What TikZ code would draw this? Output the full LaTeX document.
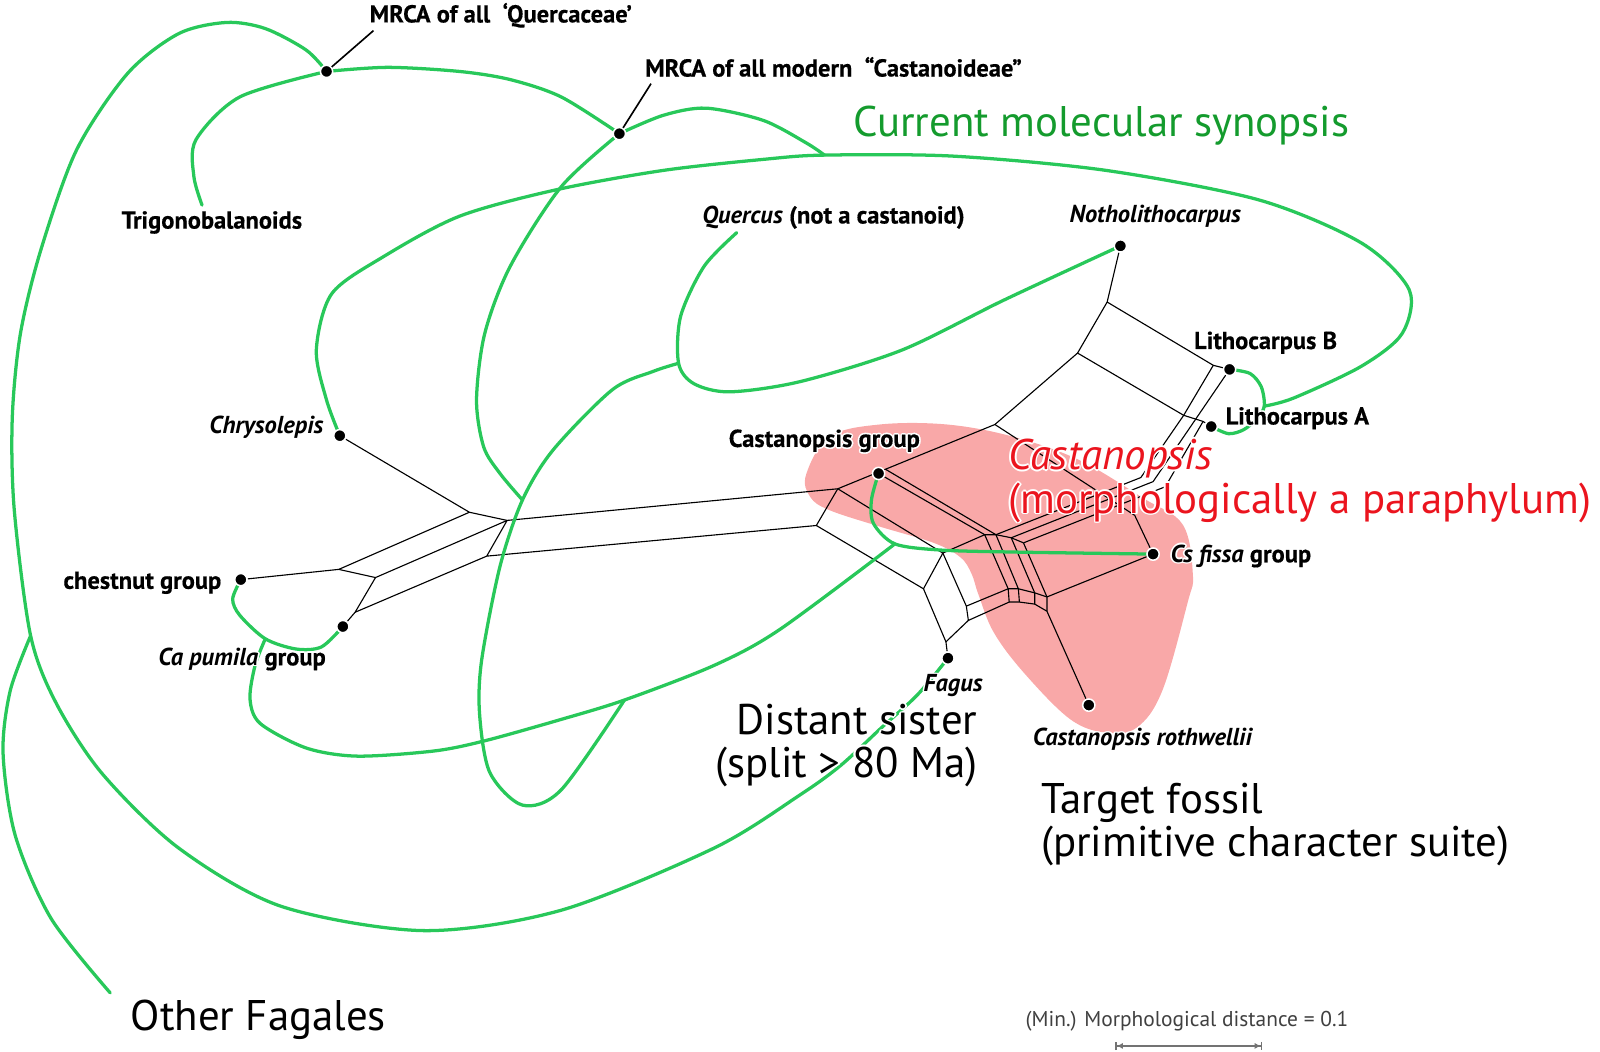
\documentclass[tikz,border=0pt]{standalone}
\usepackage{fontspec}
\setmainfont{PT Sans}
\newfontfamily\lblfont[BoldFeatures={FakeBold=0.4}]{PT Sans}
\usepackage{xcolor}
\usepackage{tikz}
\usetikzlibrary{arrows.meta,positioning,calc}

\definecolor{molgreen}{RGB}{40,200,90}
\definecolor{titlegreen}{RGB}{20,155,45}
\definecolor{castred}{RGB}{235,20,30}
\definecolor{castpink}{RGB}{249,168,168}

% white rim round a label
\newcommand{\halo}[1]{%
  \rlap{\color{white}\hspace{-1.6pt}#1}\rlap{\color{white}\hspace{1.6pt}#1}%
  \rlap{\color{white}\raisebox{1.6pt}{#1}}\rlap{\color{white}\raisebox{-1.6pt}{#1}}%
  \rlap{\color{white}\hspace{-1.1pt}\raisebox{1.1pt}{#1}}\rlap{\color{white}\hspace{1.1pt}\raisebox{1.1pt}{#1}}%
  \rlap{\color{white}\hspace{-1.1pt}\raisebox{-1.1pt}{#1}}\rlap{\color{white}\hspace{1.1pt}\raisebox{-1.1pt}{#1}}%
  #1}

\pgfdeclarelayer{back}
\pgfsetlayers{back,main}

\begin{document}
\begin{tikzpicture}[x=1pt, y=-1pt,
  net/.style={line width=1.1pt, line join=round},
  mol/.style={draw=molgreen, line width=3.2pt, line cap=round},
  leaf/.style={circle, fill=black, draw=white, line width=1.5pt, inner sep=0pt, minimum size=12pt},
  lbl/.style={font=\lblfont\bfseries\fontsize{24}{26}\selectfont, inner sep=0pt, anchor=base west},
  big/.style={font=\fontsize{42}{46}\selectfont, inner sep=0pt, anchor=base west}]
\useasboundingbox (0,0) rectangle (1568,1030);

% leaves
\node[leaf] (q) at (320,70) {};
\node[leaf] (c) at (607,131) {};
\node[leaf] (noth) at (1098,241) {};
\node[leaf] (lithb) at (1205,362) {};
\node[leaf] (litha) at (1187,418) {};
\node[leaf] (chrys) at (333,427) {};
\node[leaf] (castg) at (861,464) {};
\node[leaf] (chest) at (236,568) {};
\node[leaf] (capum) at (336,614) {};
\node[leaf] (csfissa) at (1130,543) {};
\node[leaf] (fagus) at (929,645) {};
\node[leaf] (roth) at (1067,691) {};

% network points
\coordinate (nA) at (460,502);
\coordinate (nB) at (497,510);
\coordinate (nD) at (477,545);
\coordinate (nE) at (332,558);
\coordinate (nF) at (368,566);
\coordinate (nG) at (348,600);
\coordinate (nH) at (821,479);
\coordinate (nI) at (800,515);
\coordinate (nK) at (975,416);
\coordinate (nL) at (1112,505);
\coordinate (nM1) at (1085,296);
\coordinate (nM2) at (1056,346);
\coordinate (nLB) at (1189,358);
\coordinate (nLA) at (1160,407);
\coordinate (nLA2) at (1179,413);
\coordinate (nN) at (924,542);
\coordinate (nD1) at (905,577);
\coordinate (nD2) at (947,594);
\coordinate (nD4) at (949,608);
\coordinate (nD3) at (927,629);
\coordinate (nCG) at (868,460);
\coordinate (bP) at (965,524);
\coordinate (bQ) at (976,524);
\coordinate (bR) at (991,527);
\coordinate (bS) at (1003,532);
\coordinate (bP2) at (988,577);
\coordinate (bQ2) at (998,577);
\coordinate (bR2) at (1014,581);
\coordinate (bS2) at (1026,585);
\coordinate (bP3) at (989,590);
\coordinate (bQ3) at (999,590);
\coordinate (bR3) at (1014,592);
\coordinate (bS3) at (1026,599);
\coordinate (k1) at (1118,468);
\coordinate (k2) at (1130,472);
\coordinate (k3) at (1142,477);

% tree junctions
\coordinate (j0) at (30,623);
\coordinate (je) at (808,152);
\coordinate (jq) at (665,356);
\coordinate (jx) at (512,490);
\coordinate (jl) at (612,686);
\coordinate (jp) at (260,626);
\coordinate (jc) at (877,533);
\coordinate (lj) at (1239,398);
\coordinate (ofEnd) at (108,973);
\coordinate (trigEnd) at (198,201);
\coordinate (quEnd) at (722,228);
\coordinate (qLead) at (366,30);
\coordinate (cLead) at (638,82);
\coordinate (sb1) at (1093,1025);
\coordinate (sb2) at (1237,1025);

\begin{pgfonlayer}{back}
\fill[castpink] plot[smooth cycle, tension=0.6] coordinates {(790,465) (813,428) (862,416) (928,416) (993,428) (1058,451) (1120,488) (1159,514) (1169,563) (1164,590) (1139,677) (1114,713) (1084,718) (1049,705) (1004,660) (974,620) (959,583) (952,562) (941,546) (915,532) (862,516) (813,500) (794,487)};

\draw[net] (chrys) -- (nA) -- (nB) -- (nH);
\draw[net] (nA) -- (nE) -- (chest);
\draw[net] (nE) -- (nF) -- (nB) -- (nD) -- (nI);
\draw[net] (nF) -- (nG) -- (capum);
\draw[net] (nG) -- (nD);
\draw[net] (nH) -- (nI) -- (nD1) -- (nD3) -- (fagus);
\draw[net] (nH) -- (nK) -- (nM2) -- (nM1) -- (noth);
\draw[net] (nH) -- (nN) -- (nD1);
\draw[net] (nN) -- (nD2) -- (nD4) -- (nD3);
\draw[net] (nN) -- (bP);
\draw[net] (castg) -- (bP);
\draw[net] (nCG) -- (bQ);
\draw[net] (bP) -- (bQ) -- (bR) -- (bS);
\draw[net] (bP2) -- (bQ2) -- (bR2) -- (bS2);
\draw[net] (bP3) -- (bQ3) -- (bR3) -- (bS3);
\draw[net] (bP) -- (bP2) -- (bP3);
\draw[net] (bQ) -- (bQ2) -- (bQ3);
\draw[net] (bR) -- (bR2) -- (bR3);
\draw[net] (bS) -- (bS2) -- (bS3);
\draw[net] (nD2) -- (bP2);
\draw[net] (nD4) -- (bP3);
\draw[net] (bS2) -- (csfissa);
\draw[net] (bS3) -- (roth);
\draw[net] (nK) -- (nL) -- (csfissa);
\draw[net] (bQ) -- (k1) -- (nLA) -- (nLB) -- (lithb);
\draw[net] (bR) -- (k2) -- (lithb);
\draw[net] (bS) -- (k3) -- (nLA2) -- (litha);
\draw[net] (nLA) -- (nLA2);
\draw[net] (nM1) -- (nLB);
\draw[net] (nM2) -- (nLA);

\draw[mol] plot[smooth] coordinates {(q) (300,49) (260,28) (222,22) (175,33) (125,72) (75,147) (40,245) (20,327) (12,410) (14,500) (j0) (55,689) (100,758) (175,831) (275,888) (415,912) (550,892) (700,831) (784,779) (824,750) (864,713) (899,681) (fagus)};
\draw[mol] plot[smooth] coordinates {(j0) (10,677) (3,738) (15,819) (50,900) (ofEnd)};
\draw[mol] plot[smooth] coordinates {(q) (235,95) (192,137) (190,173) (trigEnd)};
\draw[mol] plot[smooth] coordinates {(q) (380,66) (450,70) (500,78) (550,95) (c)};
\draw[mol] plot[smooth] coordinates {(c) (650,113) (692,106) (748,118) (790,140) (je)};
\draw[mol] plot[smooth] coordinates {(chrys) (320,392) (310,343) (325,288) (375,252) (450,212) (545,186) (650,167) (750,156) (je) (934,153) (1084,167) (1234,196) (1334,238) (1381,284) (1374,327) (1334,359) (1268,390) (lj)};
\draw[mol] plot[smooth] coordinates {(lithb) (1225,366) (1236,379) (lj) (1232,410) (1219,421) (1204,425) (litha)};
\draw[mol] plot[smooth] coordinates {(c) (550,183) (500,261) (475,327) (467,392) (474,438) (490,464) (jx)};
\draw[mol] plot[smooth] coordinates {(quEnd) (690,261) (667,310) (jq) (680,376) (715,384) (784,374) (884,343) (984,294) (noth)};
\draw[mol] plot[smooth] coordinates {(jq) (640,364) (600,382) (542,441) (jx) (490,555) (472,647) (470,700) (480,757) (512,789) (550,774) (jl)};
\draw[mol] plot[smooth] coordinates {(chest) (228,587) (235,603) (jp) (290,636) (315,634) (capum)};
\draw[mol] plot[smooth] coordinates {(jp) (250,652) (245,685) (255,709) (300,733) (350,741) (425,736) (475,726) (550,705) (jl) (700,652) (764,617) (jc)};
\draw[mol] plot[smooth] coordinates {(castg) (854,490) (856,513) (jc) (921,539) (993,541) (csfissa)};
\end{pgfonlayer}

\draw[line width=1.6pt] (q) -- (qLead);
\draw[line width=1.6pt] (c) -- (cLead);
\draw[black!55, line width=1.4pt, {Bar[width=8pt]Latex[length=6pt,width=6pt]}-{Latex[length=6pt,width=6pt]Bar[width=8pt]}] (sb1) -- (sb2);

\node[lbl] (tQ) at (362,22) {\halo{MRCA of all\ \ ‘Quercaceae’}};
\node[lbl] (tC) at (632,75) {\halo{MRCA of all modern\ \ “Castanoideae”}};
\node[big, text=titlegreen] (tMol) at (836,134) {Current molecular synopsis};
\node[lbl] (tTrig) at (119,224) {\halo{Trigonobalanoids}};
\node[lbl] (tQu) at (688,219) {\halo{\textit{Quercus} (not a castanoid)}};
\node[lbl] (tNoth) at (1048,218) {\halo{\textit{Notholithocarpus}}};
\node[lbl] (tLB) at (1170,342) {\halo{Lithocarpus B}};
\node[lbl] (tLA) at (1201,416) {\halo{Lithocarpus A}};
\node[lbl] (tChrys) at (205,425) {\halo{\textit{Chrysolepis}}};
\node[lbl] (tCG) at (714,438) {\halo{Castanopsis group}};
\node[lbl] (tChest) at (62,577) {\halo{chestnut group}};
\node[lbl] (tCs) at (1147,551) {\halo{\textit{Cs fissa} group}};
\node[lbl] (tCa) at (155,652) {\halo{\textit{Ca pumila} group}};
\node[lbl] (tFag) at (905,678) {\halo{\textit{Fagus}}};
\node[lbl] (tRoth) at (1012,731) {\halo{\textit{Castanopsis rothwellii}}};
\node[big, text=castred] (tRed1) at (988,460) {\halo{\textit{Castanopsis}}};
\node[big, text=castred] (tRed2) at (988,503) {\halo{(morphologically a paraphylum)}};
\node[big, anchor=base east] (tDist1) at (958,720) {\halo{Distant sister}};
\node[big, anchor=base east] (tDist2) at (958,762) {\halo{(split > 80 Ma)}};
\node[big] (tTarget1) at (1020,797) {Target fossil};
\node[big] (tTarget2) at (1020,839) {(primitive character suite)};
\node[big] (tOther) at (128,1010) {Other Fagales};
\node[font=\fontsize{21}{23}\selectfont, text=black!75, inner sep=0pt, anchor=base west] (tScale) at (1005,1006) {(Min.) Morphological distance = 0.1};
\end{tikzpicture}
\end{document}
